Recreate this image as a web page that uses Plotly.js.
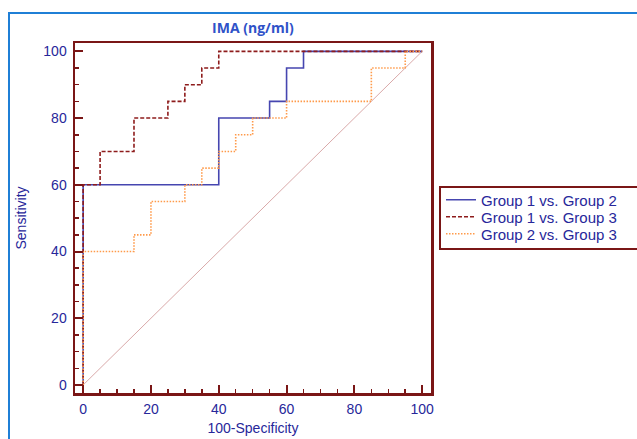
<!DOCTYPE html>
<html>
<head>
<meta charset="utf-8">
<script src="https://cdn.plot.ly/plotly-3.0.1.min.js"></script>
<style>
html,body{margin:0;padding:0;background:#fff;overflow:hidden;}
#wrap{position:relative;width:637px;height:439px;overflow:hidden;}
#frame{position:absolute;left:8px;top:12px;width:700px;height:500px;border:2px solid #1f7fd6;box-sizing:border-box;pointer-events:none;}
#chart{position:absolute;left:0;top:0;width:637px;height:439px;}
</style>
</head>
<body>
<div id="wrap">
<div id="frame"></div>
<div id="chart"></div>
</div>
<script>
// ROC curves: x = 100-Specificity, y = Sensitivity
const g12x = [0, 0, 40, 40, 55, 55, 60, 60, 65, 65, 100];
const g12y = [0, 60, 60, 80, 80, 85, 85, 95, 95, 100, 100];

const g13x = [0, 0, 5, 5, 15, 15, 25, 25, 30, 30, 35, 35, 40, 40, 100];
const g13y = [0, 60, 60, 70, 70, 80, 80, 85, 85, 90, 90, 95, 95, 100, 100];

const g23x = [0, 0, 15, 15, 20, 20, 30, 30, 35, 35, 40, 40, 45, 45, 50, 50, 60, 60, 85, 85, 95, 95, 100];
const g23y = [0, 40, 40, 45, 45, 55, 55, 60, 60, 65, 65, 70, 70, 75, 75, 80, 80, 85, 85, 95, 95, 100, 100];

const diagX = [0, 100];
const diagY = [0, 100];

const seriesNames = ["Group 1 vs. Group 2", "Group 1 vs. Group 3", "Group 2 vs. Group 3"];
const chartTitle = "IMA (ng/ml)";
const xTitle = "100-Specificity";
const yTitle = "Sensitivity";

const maroon = "#7a1616";
const navy = "#27279a";

const traces = [
  {x: diagX, y: diagY, mode: "lines", line: {color: "#d9a9a9", width: 1}, showlegend: false, hoverinfo: "skip"},
  {x: g12x, y: g12y, mode: "lines", name: seriesNames[0], legend: "legend", line: {color: "#4646b0", width: 1.6}},
  {x: g13x, y: g13y, mode: "lines", name: seriesNames[1], legend: "legend2", line: {color: "#8e1c1c", width: 1.6, dash: "4px,2px"}},
  {x: g23x, y: g23y, mode: "lines", name: seriesNames[2], legend: "legend3", line: {color: "#ff9a4a", width: 1.6, dash: "1.5px,1.5px"}}
];

const axisCommon = {
  showgrid: false, zeroline: false,
  showline: true, linecolor: maroon, linewidth: 2.5, mirror: true,
  ticks: "inside", ticklen: 8, tickwidth: 2, tickcolor: maroon,
  dtick: 20, tick0: 0,
  minor: {dtick: 5, ticks: "inside", ticklen: 4, tickwidth: 1.5, tickcolor: maroon},
  tickfont: {family: "Liberation Sans, Arial, sans-serif", size: 14, color: navy}
};

const legFont = {family: "Liberation Sans, Arial, sans-serif", size: 15, color: navy};
function leg(py) {
  return {x: (441 - 75) / 356, xanchor: "left", y: (393 - py) / 350, yanchor: "middle",
          bgcolor: "rgba(0,0,0,0)", borderwidth: 0, font: legFont};
}

const layout = {
  width: 637, height: 439,
  paper_bgcolor: "rgba(0,0,0,0)", plot_bgcolor: "rgba(0,0,0,0)",
  margin: {l: 75, r: 206, t: 43, b: 46, pad: 0},
  title: {text: "<b>" + chartTitle + "</b>", x: 0.397, xanchor: "center", y: 0.935, yanchor: "middle",
          font: {family: "Open Sans, sans-serif", size: 14, color: "#2f52c8"}},
  xaxis: Object.assign({}, axisCommon, {range: [-2.4, 102.6],
          ticklabelstandoff: 2,
          title: {text: xTitle, standoff: 7, font: {family: "Liberation Sans, Arial, sans-serif", size: 14, color: navy}}}),
  yaxis: Object.assign({}, axisCommon, {range: [-2.4, 102.5],
          ticklabelstandoff: 3,
          title: {text: yTitle, standoff: 14, font: {family: "Liberation Sans, Arial, sans-serif", size: 14, color: navy}}}),
  showlegend: true,
  legend: leg(200),
  legend2: leg(217),
  legend3: leg(234),
  shapes: [
    {type: "rect", xref: "paper", yref: "paper", x0: (440 - 75) / 356, x1: 1.7, y0: (393 - 249) / 350, y1: (393 - 187) / 350,
     line: {color: maroon, width: 2}, fillcolor: "rgba(0,0,0,0)", layer: "above"}
  ]
};

Plotly.newPlot("chart", traces, layout, {displayModeBar: false, staticPlot: true});
</script>
</body>
</html>
